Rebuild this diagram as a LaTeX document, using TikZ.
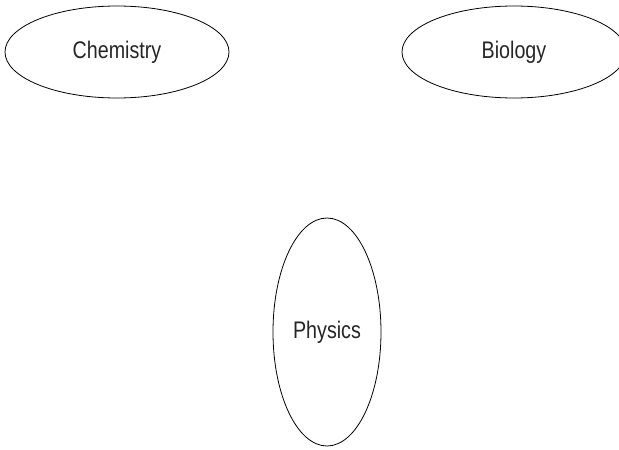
\documentclass[tikz,border=0pt]{standalone}
\usepackage{fontspec}
\setmainfont{Liberation Sans}[FakeStretch=0.82]
\usetikzlibrary{shapes.geometric, positioning}

\tikzset{
    subject/.style={ellipse, draw, line width=0.8pt, inner sep=0pt, font=\fontsize{24}{28}\selectfont, text=black!85}
}

\begin{document}
\begin{tikzpicture}[x=1pt, y=-1pt]
    % Page frame
    \useasboundingbox (0,0) rectangle (619,450);

    % Top row
    \node[subject, minimum width=224pt, minimum height=92pt] (chem) at (117,52) {Chemistry};
    \node[subject, minimum width=224pt, minimum height=92pt] (bio) at (514,52) {Biology};

    % Bottom
    \node[subject, minimum width=108pt, minimum height=228pt] (phys) at (327,332) {Physics};
\end{tikzpicture}
\end{document}
